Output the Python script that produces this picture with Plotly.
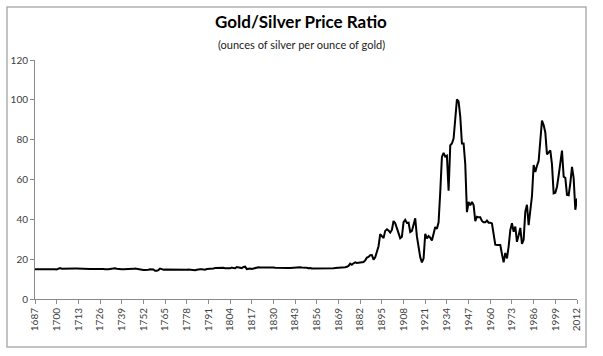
import plotly.graph_objects as go

# Years (one value per year, 1687-2012)
years = list(range(1687, 2013))

ratio_1687_1749 = [
    14.94, 14.94, 15.02, 15.02, 14.98, 14.92, 14.83, 14.87, 15.02, 15.00,
    15.20, 15.07, 14.94, 14.81, 15.07, 15.52, 15.17, 15.22, 15.11, 15.27,
    15.44, 15.41, 15.31, 15.22, 15.29, 15.31, 15.24, 15.13, 15.11, 15.09,
    15.13, 15.11, 15.09, 15.04, 15.05, 15.17, 15.20, 15.11, 15.11, 15.15,
    15.24, 15.11, 14.92, 14.81, 14.94, 15.09, 15.18, 15.39, 15.41, 15.18,
    15.02, 14.91, 14.91, 14.94, 14.92, 14.85, 14.85, 14.87, 14.98, 15.13,
    15.26, 15.11, 14.80,
]
ratio_1750_1809 = [
    14.55, 14.39, 14.54, 14.54, 14.48, 14.68, 14.94, 14.87, 14.85, 14.15,
    14.14, 14.54, 15.27, 14.99, 14.70, 14.83, 14.80, 14.85, 14.80, 14.72,
    14.62, 14.66, 14.52, 14.62, 14.62, 14.72, 14.55, 14.54, 14.68, 14.80,
    14.72, 14.78, 14.42, 14.48, 14.70, 14.92, 14.96, 14.92, 14.65, 14.75,
    15.04, 15.05, 15.17, 15.00, 15.37, 15.55, 15.65, 15.41, 15.59, 15.74,
    15.68, 15.46, 15.26, 15.41, 15.41, 15.79, 15.52, 15.43, 16.08, 15.96,
]
ratio_1810_1869 = [
    15.77, 15.53, 16.11, 16.25, 15.04, 15.26, 15.28, 15.11, 15.35, 15.33,
    15.62, 15.95, 15.80, 15.84, 15.82, 15.70, 15.76, 15.74, 15.78, 15.78,
    15.82, 15.72, 15.73, 15.93, 15.73, 15.80, 15.72, 15.83, 15.85, 15.62,
    15.62, 15.70, 15.87, 15.93, 15.85, 15.92, 15.90, 15.80, 15.85, 15.78,
    15.70, 15.46, 15.59, 15.33, 15.33, 15.38, 15.38, 15.27, 15.38, 15.19,
    15.29, 15.50, 15.35, 15.37, 15.37, 15.44, 15.43, 15.57, 15.59, 15.60,
]
ratio_1870_1929 = [
    15.57, 15.57, 15.63, 15.93, 16.16, 16.64, 17.75, 17.20, 17.92, 18.39,
    18.05, 18.25, 18.20, 18.64, 18.57, 19.41, 20.78, 21.10, 22.00, 22.10,
    19.76, 20.92, 23.72, 26.49, 32.56, 31.60, 30.59, 34.20, 35.03, 34.36,
    33.33, 34.68, 39.15, 38.10, 35.70, 33.87, 30.54, 31.24, 38.64, 39.74,
    38.22, 38.33, 33.62, 34.19, 37.85, 40.48, 31.40, 25.10, 21.00, 18.40,
    20.30, 32.76, 30.43, 31.57, 30.77, 29.38, 32.88, 36.11, 35.26, 38.52,
]
ratio_1930_1989 = [
    53.70, 71.30, 73.40, 71.50, 72.00, 54.40, 77.10, 78.10, 80.60, 89.50,
    100.20, 99.20, 91.60, 78.10, 78.10, 67.70, 43.60, 48.70, 47.00, 48.70,
    47.20, 39.10, 41.30, 41.00, 41.00, 39.20, 38.50, 38.50, 39.40, 38.30,
    38.30, 37.90, 32.40, 27.30, 27.10, 27.10, 27.10, 22.60, 18.40, 23.10,
    20.40, 26.30, 34.60, 38.00, 33.80, 36.40, 28.70, 32.00, 35.70, 27.70,
    29.70, 43.80, 47.30, 37.10, 44.30, 51.70, 67.30, 63.80, 66.90, 69.30,
]
ratio_1990_2012 = [
    79.60, 89.60, 87.30, 83.60, 72.60, 73.90, 74.60, 67.60, 53.10, 53.40,
    56.40, 62.00, 67.40, 74.50, 61.40, 60.80, 52.30, 52.10, 58.20, 66.30,
    60.70, 44.80, 50.50,
]

ratio = (ratio_1687_1749 + ratio_1750_1809 + ratio_1810_1869
         + ratio_1870_1929 + ratio_1930_1989 + ratio_1990_2012)

tick_years = [1687, 1700, 1713, 1726, 1739, 1752, 1765, 1778, 1791, 1804,
              1817, 1830, 1843, 1856, 1869, 1882, 1895, 1908, 1921, 1934,
              1947, 1960, 1973, 1986, 1999, 2012]
y_ticks = [0, 20, 40, 60, 80, 100, 120]

title_text = "Gold/Silver Price Ratio"
subtitle_text = "(ounces of silver per ounce of gold)"

W, H = 603, 356
ml, mr, mt, mb = 35, 26, 60, 57
pw, ph = W - ml - mr, H - mt - mb

def px_to_paper_x(px):
    return (px - ml) / pw

def py_to_paper_y(py):
    return (H - mb - py) / ph

fig = go.Figure()
fig.add_trace(go.Scatter(
    x=years, y=ratio, mode="lines",
    line=dict(color="black", width=2),
    hoverinfo="x+y", showlegend=False,
))

axis_col = "#8a8a8a"
tick_font = dict(family="Lato, 'Open Sans', sans-serif", size=10, color="#404040")

fig.update_layout(
    width=W, height=H,
    margin=dict(l=ml, r=mr, t=mt, b=mb, autoexpand=False),
    paper_bgcolor="white", plot_bgcolor="white",
    xaxis=dict(
        range=[1687, 2012], tickmode="array", tickvals=tick_years,
        ticktext=[str(t) for t in tick_years], tickangle=-90,
        showgrid=False, zeroline=False, showline=True, linecolor=axis_col,
        linewidth=1, ticks="outside", ticklen=4, tickcolor=axis_col,
        tickfont=tick_font, automargin=False,
    ),
    yaxis=dict(
        range=[0, 120], tickmode="array", tickvals=y_ticks,
        showgrid=False, zeroline=False, showline=True, linecolor=axis_col,
        linewidth=1, ticks="outside", ticklen=4, tickcolor=axis_col,
        tickfont=tick_font, automargin=False,
    ),
    annotations=[
        dict(text="<b>" + title_text + "</b>", xref="paper", yref="paper",
             x=px_to_paper_x(301), y=py_to_paper_y(22), showarrow=False,
             xanchor="center", yanchor="middle",
             font=dict(family="Lato, sans-serif", size=17, color="black")),
        dict(text=subtitle_text, xref="paper", yref="paper",
             x=px_to_paper_x(301), y=py_to_paper_y(44), showarrow=False,
             xanchor="center", yanchor="middle",
             font=dict(family="Lato, sans-serif", size=11, color="#222222")),
    ],
    shapes=[
        dict(type="rect", xref="paper", yref="paper",
             x0=px_to_paper_x(7), x1=px_to_paper_x(586),
             y0=py_to_paper_y(347), y1=py_to_paper_y(7),
             line=dict(color="#b0b0b0", width=1.5), fillcolor="rgba(0,0,0,0)",
             layer="below"),
    ],
)

fig.write_html(
    "out.html",
    config={"displayModeBar": False},
    post_script="document.body.style.margin='0';document.body.style.overflow='hidden';",
)
